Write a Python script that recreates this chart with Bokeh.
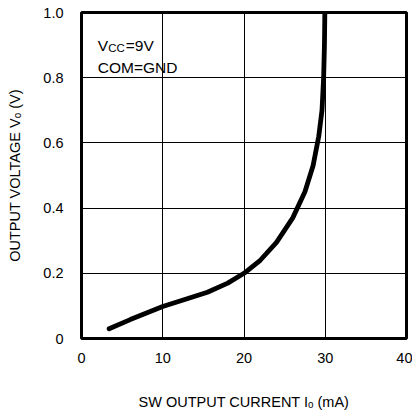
from bokeh.plotting import figure
from bokeh.models import FixedTicker, Label, Range1d
from bokeh.embed import file_html
from bokeh.resources import INLINE

# ---- data ----
current_ma = [3.4, 6, 10, 13, 15.5, 18, 20, 22, 24, 26, 27.5, 28.5, 29.2, 29.6, 29.8, 29.9, 29.95]
voltage_v = [0.03, 0.058, 0.098, 0.122, 0.142, 0.17, 0.2, 0.24, 0.295, 0.37, 0.45, 0.53, 0.62, 0.7, 0.8, 0.9, 1.0]
x_ticks = [0, 10, 20, 30, 40]
y_ticks = [0, 0.2, 0.4, 0.6, 0.8, 1.0]
y_tick_labels = ["0", "0.2", "0.4", "0.6", "0.8", "1.0"]
x_title = "SW OUTPUT CURRENT I\u2092 (mA)"
y_title = "OUTPUT VOLTAGE V\u2092 (V)"

FONT = "Liberation Sans"
FW, FH = 325, 326
XR, YR = (0, 40), (0, 1)

p = figure(width=412, height=404, output_backend="svg", toolbar_location=None,
           x_range=Range1d(*XR), y_range=Range1d(*YR),
           frame_width=FW, frame_height=FH,
           min_border_left=81, min_border_right=6, min_border_top=12, min_border_bottom=66)
p.background_fill_color = "white"
p.border_fill_color = "white"
p.outline_line_color = "black"
p.outline_line_width = 3
p.outline_line_alpha = 1.0

for ax in (p.xaxis, p.yaxis):
    ax.axis_line_color = None
    ax.major_tick_line_color = None
    ax.minor_tick_line_color = None
    ax.major_label_text_font = FONT
    ax.major_label_text_font_size = "14.5px"
    ax.major_label_text_color = "black"
    ax.axis_label_text_font = FONT
    ax.axis_label_text_font_size = "14.5px"
    ax.axis_label_text_font_style = "normal"
    ax.axis_label_text_color = "black"
p.xaxis.ticker = FixedTicker(ticks=x_ticks)
p.yaxis.ticker = FixedTicker(ticks=y_ticks)
p.yaxis.major_label_overrides = {t: s for t, s in zip(y_ticks, y_tick_labels)}
p.xaxis.major_label_standoff = 8
p.yaxis.major_label_standoff = 12
p.xaxis.axis_label = x_title
p.yaxis.axis_label = y_title
p.xaxis.axis_label_standoff = 28
p.yaxis.axis_label_standoff = 17

p.xgrid.ticker = FixedTicker(ticks=x_ticks)
p.ygrid.ticker = FixedTicker(ticks=y_ticks)
for g in (p.xgrid, p.ygrid):
    g.grid_line_color = "black"
    g.grid_line_width = 1
    g.grid_line_alpha = 1.0

p.line(current_ma, voltage_v, line_color="black", line_width=4.8, line_cap="round", line_join="round")

pxx = (XR[1] - XR[0]) / FW
pxy = (YR[1] - YR[0]) / FH

def add(text, x, y, size):
    p.add_layout(Label(x=x, y=y, text=text, text_font=FONT, text_font_size=f"{size}px",
                       text_color="black", text_align="left", text_baseline="middle"))

# inside annotation: V_CC=9V / COM=GND
ax0, ay0 = 2.0, 0.899
add("V", ax0, ay0, 15.5)
add("CC", ax0 + 10.5 * pxx, ay0 - 3 * pxy, 11.5)
add("=9V", ax0 + 28 * pxx, ay0, 15.5)
add("COM=GND", ax0, 0.831, 15.5)

open("out.html", "w").write(file_html(p, INLINE))
